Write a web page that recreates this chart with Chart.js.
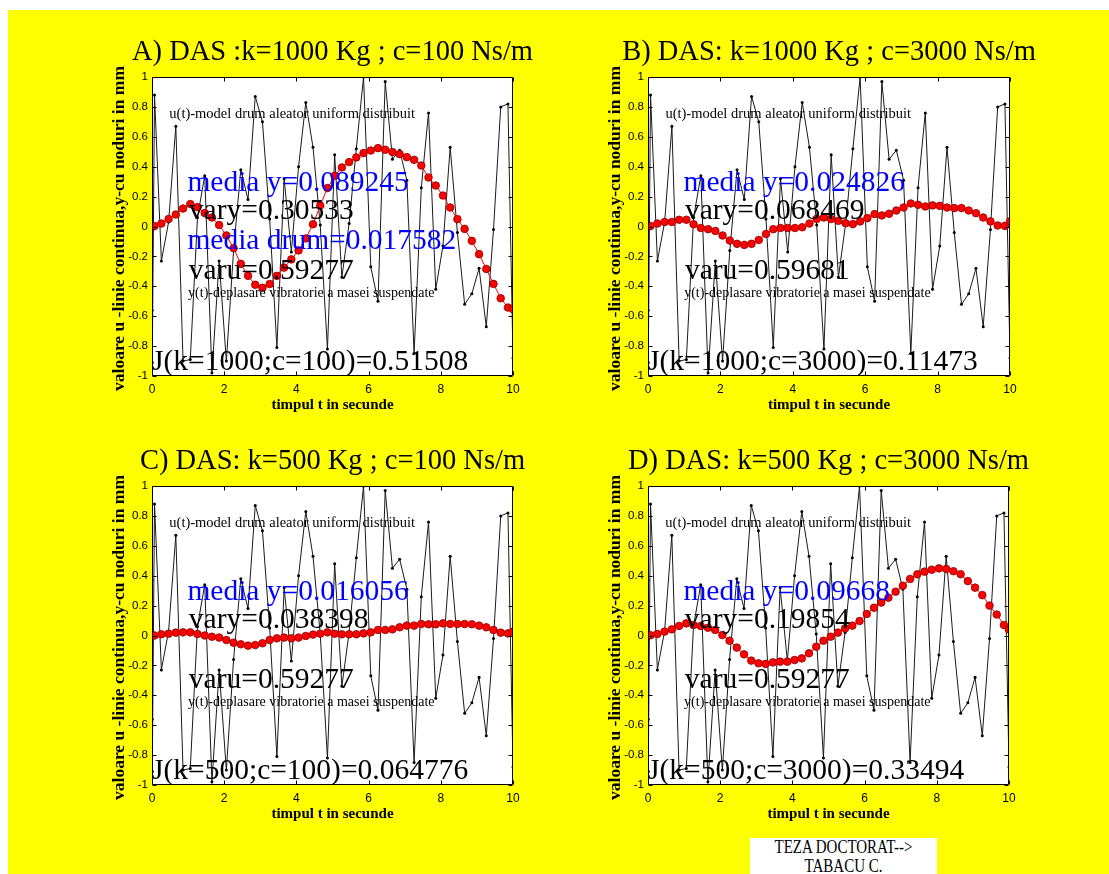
<!DOCTYPE html>
<html><head><meta charset="utf-8">
<script src="https://cdn.jsdelivr.net/npm/chart.js@4.4.1/dist/chart.umd.min.js"></script>
<style>
html,body{margin:0;padding:0;background:#fff;}
#page{position:relative;width:1109px;height:874px;overflow:hidden;background:#fff;}
#bg{position:absolute;left:8px;top:10px;right:0;bottom:0;background:#ffff00;}
canvas.panel{position:absolute;}
#sig{position:absolute;left:750px;top:838px;width:187px;height:40px;background:#fff;font-family:'Liberation Serif','Times New Roman',serif;font-size:15px;color:#000;text-align:center;}
#sig div{position:absolute;left:0;width:100%;transform:scaleY(1.25);}
</style></head><body>
<div id="page">
<div id="bg"></div>
<canvas id="cA" class="panel"></canvas>
<canvas id="cB" class="panel"></canvas>
<canvas id="cC" class="panel"></canvas>
<canvas id="cD" class="panel"></canvas>
<div id="sig"><div style="top:1px">TEZA DOCTORAT--&gt;</div><div style="top:20px">TABACU C.</div></div>
</div>
<script>
// ---------------- data ----------------
const timeNodes = [0, 0.004, 0.01, 0.07, 0.26, 0.46, 0.66, 0.86, 1.06, 1.26, 1.46, 1.66, 1.86, 2.06, 2.26, 2.46, 2.66, 2.86, 3.06, 3.26, 3.46, 3.66, 3.86, 4.06, 4.26, 4.46, 4.66, 4.86, 5.06, 5.26, 5.46, 5.66, 5.86, 6.06, 6.26, 6.46, 6.66, 6.86, 7.06, 7.26, 7.46, 7.66, 7.86, 8.06, 8.26, 8.46, 8.66, 8.86, 9.06, 9.26, 9.46, 9.66, 9.86, 10];
const roadU = [0.37, -0.56, -0.91, 0.88, -0.23, 0.03, 0.67, -0.90, -0.89, 0.06, 0.34, -0.98, -0.23, -0.90, -0.16, 0.38, 0.18, 0.87, 0.70, 0.05, -0.81, 0.32, -0.17, 0.40, 0.83, 0.53, 0.01, -0.82, 0.48, -0.34, 0.02, 0.52, 1.0, -0.27, -0.50, 0.97, 0.45, 0.51, 0.31, -0.85, 0.26, 0.76, -0.42, -0.13, 0.53, -0.04, -0.52, -0.45, -0.28, -0.67, -0.02, 0.80, 0.82, -0.88];
const yA = [0, 0, 0, 0.003, 0.02, 0.05, 0.08, 0.12, 0.15, 0.13, 0.09, 0.06, 0.01, -0.06, -0.145, -0.25, -0.33, -0.39, -0.41, -0.385, -0.33, -0.275, -0.22, -0.16, -0.08, 0.015, 0.14, 0.257, 0.339, 0.395, 0.431, 0.462, 0.491, 0.508, 0.524, 0.513, 0.498, 0.484, 0.464, 0.446, 0.408, 0.328, 0.274, 0.207, 0.127, 0.049, -0.016, -0.096, -0.185, -0.284, -0.384, -0.48, -0.542, -0.553];
const yB = [0, 0, 0, 0.003, 0.02, 0.03, 0.03, 0.045, 0.045, 0.015, -0.01, -0.018, -0.03, -0.06, -0.094, -0.116, -0.123, -0.116, -0.09, -0.05, -0.018, -0.01, -0.01, -0.01, -0.005, 0.02, 0.051, 0.06, 0.05, 0.038, 0.022, 0.016, 0.034, 0.056, 0.083, 0.074, 0.085, 0.107, 0.127, 0.154, 0.145, 0.134, 0.141, 0.138, 0.127, 0.123, 0.123, 0.107, 0.089, 0.06, 0.034, 0.007, 0.004, 0.034];
const yC = [0, 0, 0, 0, 0.008, 0.012, 0.019, 0.021, 0.021, 0.01, 0, -0.008, -0.014, -0.03, -0.048, -0.059, -0.068, -0.064, -0.052, -0.03, -0.019, -0.014, -0.019, -0.014, -0.003, 0.006, 0.012, 0.021, 0.012, 0.008, 0.008, 0.008, 0.014, 0.021, 0.037, 0.037, 0.041, 0.055, 0.066, 0.066, 0.077, 0.075, 0.075, 0.081, 0.077, 0.077, 0.077, 0.075, 0.066, 0.055, 0.037, 0.019, 0.014, 0.026];
const yD = [0, 0, 0, 0.002, 0.01, 0.026, 0.041, 0.064, 0.081, 0.07, 0.064, 0.052, 0.037, 0.003, -0.035, -0.081, -0.126, -0.168, -0.186, -0.19, -0.18, -0.175, -0.175, -0.164, -0.153, -0.119, -0.075, -0.035, -0.008, 0.019, 0.048, 0.066, 0.097, 0.144, 0.186, 0.22, 0.253, 0.293, 0.333, 0.378, 0.409, 0.427, 0.44, 0.449, 0.445, 0.43, 0.41, 0.364, 0.32, 0.27, 0.20, 0.14, 0.07, 0.04];

const xTickValues = [0, 2, 4, 6, 8, 10];
const xTickLabels = ['0', '2', '4', '6', '8', '10'];
const yTickValues = [-1, -0.8, -0.6, -0.4, -0.2, 0, 0.2, 0.4, 0.6, 0.8, 1];
const yTickLabels = ['-1', '-0.8', '-0.6', '-0.4', '-0.2', '0', '0.2', '0.4', '0.6', '0.8', '1'];

const panelTitles = [
  'A) DAS :k=1000 Kg ; c=100 Ns/m',
  'B) DAS: k=1000 Kg ; c=3000 Ns/m',
  'C) DAS: k=500 Kg ; c=100 Ns/m',
  'D) DAS: k=500 Kg ; c=3000 Ns/m'
];
const xAxisTitle = 'timpul t in secunde';
const yAxisTitle = 'valoare u -linie continua,y-cu noduri in mm';
const roadLabel = 'u(t)-model drum aleator uniform distribuit';
const respLabel = 'y(t)-deplasare vibratorie a masei suspendate';
const mediaY = ['media y=0.089245', 'media y=0.024826', 'media y=0.016056', 'media y=0.09668'];
const varY = ['vary=0.30533', 'vary=0.068469', 'vary=0.038398', 'vary=0.19854'];
const mediaDrum = ['media drum=0.017582', '', '', ''];
const varU = ['varu=0.59277', 'varu=0.59681', 'varu=0.59277', 'varu=0.59277'];
const costJ = ['J(k=1000;c=100)=0.51508', 'J(k=1000;c=3000)=0.11473', 'J(k=500;c=100)=0.064776', 'J(k=500;c=3000)=0.33494'];

// ---------------- layout / style ----------------
const SERIF = "'Liberation Serif','Times New Roman',serif";
const SANS = "'Liberation Sans',Arial,sans-serif";
const SIDE = 52, TOPH = 48, BOTH = 44;
const rects = [
  {L: 152, R: 513, T: 77, B: 376},
  {L: 648, R: 1010, T: 77, B: 376},
  {L: 152, R: 513, T: 486, B: 785},
  {L: 648, R: 1009, T: 486, B: 785}
];
// text anchors in data units (left x, middle y)
const textSlots = {
  road:  {x: 0.48, y: 0.75, size: 14.5, color: '#000'},
  media: {x: 0.98, y: 0.29, size: 29.5, color: '#0000ff'},
  vary:  {x: 1.02, y: 0.10, size: 29.5, color: '#000'},
  drum:  {x: 0.98, y: -0.10, size: 29.5, color: '#0000ff'},
  varu:  {x: 1.02, y: -0.30, size: 29.5, color: '#000'},
  resp:  {x: 1.0, y: -0.445, size: 14, color: '#000'},
  cost:  {x: 0.0, y: -0.905, size: 29.5, color: '#000'}
};

const framePlugin = {
  id: 'frame',
  beforeDraw(chart) {
    const {ctx, chartArea: a} = chart;
    ctx.save();
    ctx.fillStyle = '#ffffff';
    ctx.fillRect(a.left, a.top, a.right - a.left, a.bottom - a.top);
    ctx.restore();
  },
  afterDatasetsDraw(chart, args, opts) {
    const {ctx, chartArea: a, scales: {x, y}} = chart;
    ctx.save();
    ctx.strokeStyle = '#000';
    ctx.lineWidth = 1;
    const l = Math.round(a.left) + 0.5, r = Math.round(a.right) - 0.5;
    const t = Math.round(a.top) + 0.5, b = Math.round(a.bottom) - 0.5;
    ctx.beginPath();
    ctx.rect(l, t, r - l, b - t);
    xTickValues.forEach(v => {
      const px = Math.round(x.getPixelForValue(v)) + 0.5;
      ctx.moveTo(px, b); ctx.lineTo(px, b - 4);
      ctx.moveTo(px, t); ctx.lineTo(px, t + 4);
    });
    yTickValues.forEach(v => {
      const py = Math.round(y.getPixelForValue(v)) + 0.5;
      ctx.moveTo(l, py); ctx.lineTo(l + 4, py);
      ctx.moveTo(r, py); ctx.lineTo(r - 4, py);
    });
    ctx.stroke();
    ctx.textAlign = 'left';
    ctx.textBaseline = 'middle';
    (opts.texts || []).forEach(item => {
      if (!item.text) return;
      const s = textSlots[item.slot];
      ctx.font = s.size + 'px ' + SERIF;
      ctx.fillStyle = s.color;
      ctx.fillText(item.text, x.getPixelForValue(s.x), y.getPixelForValue(s.y));
    });
    ctx.save();
    ctx.font = 'bold 17.5px ' + SERIF;
    ctx.fillStyle = '#000';
    ctx.textAlign = 'center';
    ctx.translate(a.left - 33, (a.top + a.bottom) / 2 + 2);
    ctx.rotate(-Math.PI / 2);
    ctx.fillText(yAxisTitle, 0, 0);
    ctx.restore();
    ctx.restore();
  }
};

function makeChart(id, idx, yData) {
  const rect = rects[idx];
  const canvas = document.getElementById(id);
  const W = rect.R - rect.L + 2 * SIDE, H = rect.B - rect.T + TOPH + BOTH;
  canvas.style.left = (rect.L - SIDE) + 'px';
  canvas.style.top = (rect.T - TOPH) + 'px';
  canvas.width = W; canvas.height = H;
  canvas.style.width = W + 'px'; canvas.style.height = H + 'px';
  const texts = [
    {slot: 'road', text: roadLabel},
    {slot: 'media', text: mediaY[idx]},
    {slot: 'vary', text: varY[idx]},
    {slot: 'drum', text: mediaDrum[idx]},
    {slot: 'varu', text: varU[idx]},
    {slot: 'resp', text: respLabel},
    {slot: 'cost', text: costJ[idx]}
  ];
  return new Chart(canvas, {
    type: 'scatter',
    data: {
      datasets: [
        {
          label: 'y(t)',
          data: timeNodes.map((t, i) => ({x: t, y: yData[i]})),
          showLine: true, borderColor: '#ff0000', borderWidth: 1,
          pointRadius: 3.8, pointBackgroundColor: '#ff0000',
          pointBorderColor: '#8a0000', pointBorderWidth: 0.8, tension: 0
        },
        {
          label: 'u(t)',
          data: timeNodes.map((t, i) => ({x: t, y: roadU[i]})),
          showLine: true, borderColor: '#1a1a1a', borderWidth: 1,
          pointRadius: 1.5, pointBackgroundColor: '#000', pointBorderWidth: 0, tension: 0
        }
      ]
    },
    options: {
      responsive: false, animation: false, devicePixelRatio: 1,
      events: [],
      layout: {padding: 0},
      plugins: {
        legend: {display: false},
        tooltip: {enabled: false},
        title: {
          display: true, text: panelTitles[idx], color: '#000',
          font: {family: SERIF, size: 28.5, weight: 'normal', lineHeight: 1.2},
          padding: {top: 6, bottom: 7.8}
        },
        frame: {texts}
      },
      scales: {
        x: {
          type: 'linear', min: 0, max: 10,
          afterBuildTicks: s => { s.ticks = xTickValues.map(v => ({value: v})); },
          afterFit: s => { s.height = BOTH; },
          ticks: {callback: (v, i) => xTickLabels[i], color: '#000', font: {family: SANS, size: 12}, padding: 6, maxRotation: 0, autoSkip: false},
          grid: {display: false, drawTicks: false},
          border: {display: false},
          title: {display: true, text: xAxisTitle, color: '#000', font: {family: SERIF, size: 15, weight: 'bold', lineHeight: 1.2}, padding: {top: 0, bottom: 6}}
        },
        y: {
          type: 'linear', min: -1, max: 1,
          afterBuildTicks: s => { s.ticks = yTickValues.map(v => ({value: v})); },
          afterFit: s => { s.width = SIDE; },
          ticks: {callback: (v, i) => yTickLabels[i], color: '#000', font: {family: SANS, size: 11.5}, padding: 4, autoSkip: false},
          grid: {display: false, drawTicks: false},
          border: {display: false}
        },
        yRight: {
          type: 'linear', position: 'right', min: -1, max: 1,
          afterFit: s => { s.width = SIDE; },
          ticks: {display: false},
          grid: {display: false, drawTicks: false},
          border: {display: false}
        }
      }
    },
    plugins: [framePlugin]
  });
}

makeChart('cA', 0, yA);
makeChart('cB', 1, yB);
makeChart('cC', 2, yC);
makeChart('cD', 3, yD);
</script>
</body></html>
